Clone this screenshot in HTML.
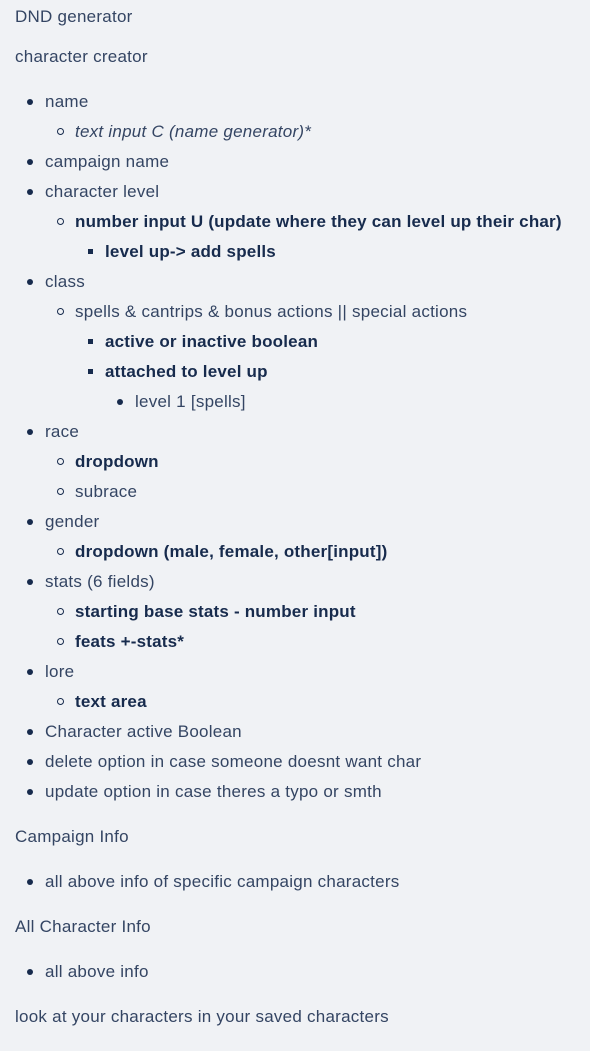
<!DOCTYPE html>
<html><head><style>
body{margin:0;width:590px;height:1051px;background:#f0f2f5;font-family:"Liberation Sans",sans-serif;font-size:17px;color:#344563;position:relative;overflow:hidden}
.l{position:absolute;white-space:nowrap;line-height:20px;letter-spacing:0.25px;margin-top:2px}
.b{font-weight:bold;color:#172b4d;letter-spacing:0.2px}
.i{font-style:italic}
.d,.c,.s{margin-top:2px}
.d{position:absolute;width:6px;height:6px;border-radius:50%;background:#172b4d}
.c{position:absolute;width:5px;height:5px;border-radius:50%;border:1.3px solid #172b4d}
.s{position:absolute;width:5px;height:5px;background:#172b4d}
</style></head><body>
<div class="l" style="left:15px;top:5px">DND generator</div>
<div class="l" style="left:15px;top:45px">character creator</div>

<div class="d" style="left:27px;top:97px"></div><div class="l" style="left:45px;top:90px">name</div>
<div class="c" style="left:57px;top:126px"></div><div class="l i" style="left:75px;top:120px">text input C (name generator)*</div>
<div class="d" style="left:27px;top:157px"></div><div class="l" style="left:45px;top:150px">campaign name</div>
<div class="d" style="left:27px;top:187px"></div><div class="l" style="left:45px;top:180px">character level</div>
<div class="c" style="left:57px;top:216px"></div><div class="l b" style="left:75px;top:210px">number input U (update where they can level up their char)</div>
<div class="s" style="left:88px;top:247px"></div><div class="l b" style="left:105px;top:240px">level up-&gt; add spells</div>
<div class="d" style="left:27px;top:277px"></div><div class="l" style="left:45px;top:270px">class</div>
<div class="c" style="left:57px;top:306px"></div><div class="l" style="left:75px;top:300px">spells &amp; cantrips &amp; bonus actions || special actions</div>
<div class="s" style="left:88px;top:337px"></div><div class="l b" style="left:105px;top:330px">active or inactive boolean</div>
<div class="s" style="left:88px;top:367px"></div><div class="l b" style="left:105px;top:360px">attached to level up</div>
<div class="d" style="left:117px;top:397px"></div><div class="l" style="left:135px;top:390px">level 1 [spells]</div>
<div class="d" style="left:27px;top:427px"></div><div class="l" style="left:45px;top:420px">race</div>
<div class="c" style="left:57px;top:456px"></div><div class="l b" style="left:75px;top:450px">dropdown</div>
<div class="c" style="left:57px;top:486px"></div><div class="l" style="left:75px;top:480px">subrace</div>
<div class="d" style="left:27px;top:517px"></div><div class="l" style="left:45px;top:510px">gender</div>
<div class="c" style="left:57px;top:546px"></div><div class="l b" style="left:75px;top:540px">dropdown (male, female, other[input])</div>
<div class="d" style="left:27px;top:577px"></div><div class="l" style="left:45px;top:570px">stats (6 fields)</div>
<div class="c" style="left:57px;top:606px"></div><div class="l b" style="left:75px;top:600px">starting base stats - number input</div>
<div class="c" style="left:57px;top:636px"></div><div class="l b" style="left:75px;top:630px">feats +-stats*</div>
<div class="d" style="left:27px;top:667px"></div><div class="l" style="left:45px;top:660px">lore</div>
<div class="c" style="left:57px;top:696px"></div><div class="l b" style="left:75px;top:690px">text area</div>
<div class="d" style="left:27px;top:727px"></div><div class="l" style="left:45px;top:720px">Character active Boolean</div>
<div class="d" style="left:27px;top:757px"></div><div class="l" style="left:45px;top:750px">delete option in case someone doesnt want char</div>
<div class="d" style="left:27px;top:787px"></div><div class="l" style="left:45px;top:780px">update option in case theres a typo or smth</div>

<div class="l" style="left:15px;top:825px">Campaign Info</div>
<div class="d" style="left:27px;top:877px"></div><div class="l" style="left:45px;top:870px">all above info of specific campaign characters</div>
<div class="l" style="left:15px;top:915px">All Character Info</div>
<div class="d" style="left:27px;top:967px"></div><div class="l" style="left:45px;top:960px">all above info</div>
<div class="l" style="left:15px;top:1005px">look at your characters in your saved characters</div>
</body></html>
